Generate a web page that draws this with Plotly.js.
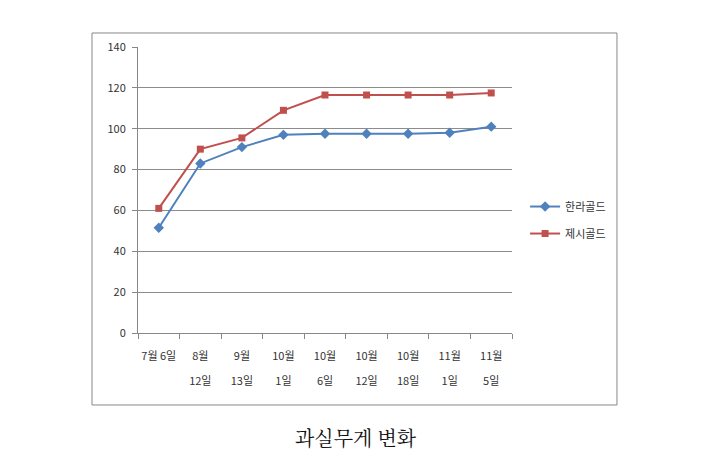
<!DOCTYPE html>
<html><head><meta charset="utf-8">
<script src="https://cdn.plot.ly/plotly-3.0.1.min.js"></script>
<style>html,body{margin:0;padding:0;background:#fff}</style>
</head><body>
<div id="chart" style="width:722px;height:466px"></div>
<script>
const categories = ["7월 6일", "8월 12일", "9월 13일", "10월 1일", "10월 6일", "10월 12일", "10월 18일", "11월 1일", "11월 5일"];
const tickLabels = ["7월 6일", "8월<br>12일", "9월<br>13일", "10월<br>1일", "10월<br>6일", "10월<br>12일", "10월<br>18일", "11월<br>1일", "11월<br>5일"];
const hallaGold = [51.5, 83, 91, 97, 97.5, 97.5, 97.5, 98, 101];
const jesiGold = [61, 90, 95.5, 109, 116.5, 116.5, 116.5, 116.5, 117.5];
const seriesNames = ["한라골드", "제시골드"];
const chartTitle = "과실무게 변화";

const font = "'Noto Sans CJK KR', 'Noto Sans', sans-serif";
const traces = [
  {x: categories, y: hallaGold, name: seriesNames[0], legendgroup: "a", type: "scatter", mode: "lines+markers",
   line: {color: "#4f81bd", width: 2}, marker: {symbol: "diamond", size: 8, color: "#4f81bd"}},
  {x: categories, y: jesiGold, name: seriesNames[1], legendgroup: "b", type: "scatter", mode: "lines+markers",
   line: {color: "#c0504d", width: 2}, marker: {symbol: "square", size: 7, color: "#c0504d"}}
];
const wrap = s => s.split("<br>").map(p => '<span style="font-size:11px">' + p + '</span>').join("<br>");
const layout = {
  width: 722, height: 466,
  margin: {l: 138, r: 210, t: 47, b: 133},
  paper_bgcolor: "#fff", plot_bgcolor: "#fff",
  font: {family: font, size: 11, color: "#333"},
  showlegend: true,
  legend: {x: 1.035, y: 0.395, xanchor: "left", yanchor: "middle", font: {size: 11, color: "#333"},
           tracegroupgap: 8, itemwidth: 30},
  xaxis: {type: "category", showgrid: false, showline: true, linecolor: "#888", linewidth: 1,
          ticks: "outside", tickson: "boundaries", ticklen: 5, tickcolor: "#888", tickangle: 0,
          tickmode: "array", tickvals: categories, ticktext: tickLabels.map(wrap),
          tickfont: {size: 19, color: "#333"}, ticklabelstandoff: 3, range: [-0.5, 8.5], automargin: false},
  yaxis: {range: [0, 140], dtick: 20, showgrid: true, gridcolor: "#8c8c8c", gridwidth: 1,
          showline: true, linecolor: "#888", ticks: "outside", ticklen: 5, tickcolor: "#888",
          tickfont: {size: 11, color: "#333"}, zeroline: false, ticklabelstandoff: 4, automargin: false},
  shapes: [{type: "rect", xref: "paper", yref: "paper", x0: -0.123, x1: 1.2807, y0: -0.2517, y1: 1.049,
            line: {color: "#888", width: 1}, fillcolor: "rgba(0,0,0,0)"}],
  annotations: [{text: chartTitle, xref: "paper", yref: "paper", x: 0.583, y: -0.367, xanchor: "center", yanchor: "middle",
                 showarrow: false, font: {family: "'Noto Serif CJK KR', 'Noto Sans CJK KR', serif", size: 20, color: "#111"}}]
};
Plotly.newPlot("chart", traces, layout, {displayModeBar: false, staticPlot: true});
</script>
</body></html>
